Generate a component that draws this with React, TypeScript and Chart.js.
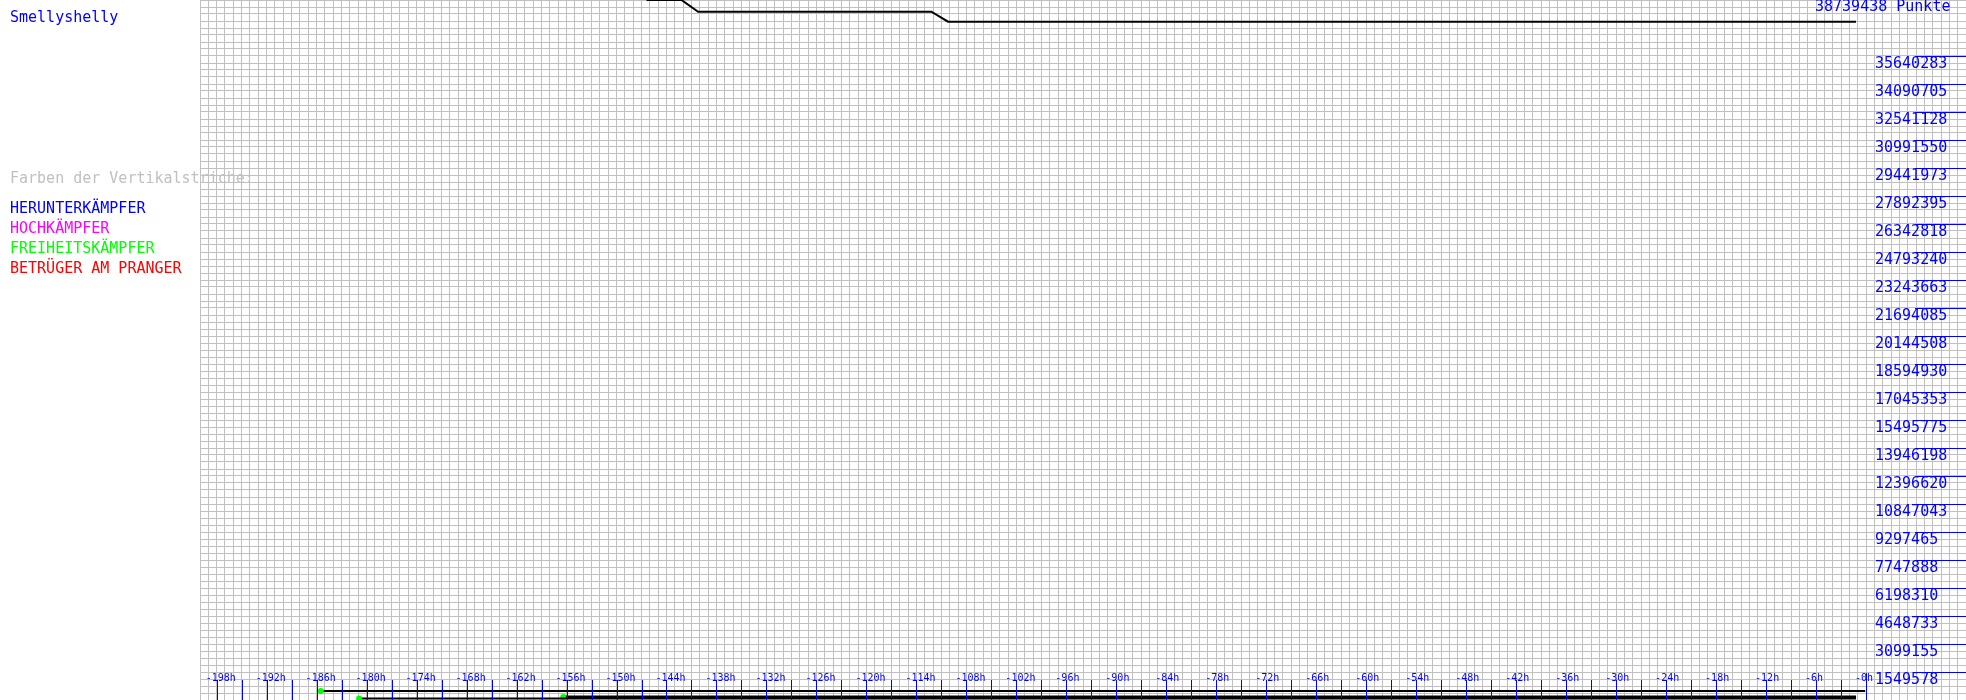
import React, { useEffect, useRef } from "react";
import { Chart, registerables } from "chart.js";
Chart.register(...registerables);

const PLAYER_NAME = "Smellyshelly";
const TOTAL_LABEL = "38739438 Punkte";
const Y_MAX = 38739438;
const LEGEND_TITLE = "Farben der Vertikalstriche:";
const LEGEND_ITEMS = ["HERUNTERKÄMPFER", "HOCHKÄMPFER", "FREIHEITSKÄMPFER", "BETRÜGER AM PRANGER"];
const LEGEND_COLORS = ["#0000ff", "#ff00ff", "#00ff00", "#ff0000"];

// main points line (hours relative to now, points)
const pointHours = [-146.4, -142.2, -140.2, -112.2, -110.2, -1.2];
const pointValues = [38739438, 38739438, 38091900, 38091900, 37538500, 37538500];

// bottom bars
const barAHours = [-185.5, -0.1];
const barAValues = [498000, 498000];
const barBHours = [-180.9, -1.2];
const barBValues = [83000, 83000];
const barCHours = [-156.4, -1.2];
const barCValues = [160000, 160000];

const Y_TICK_VALUES = [
  1549578, 3099155, 4648733, 6198310, 7747888, 9297465, 10847043, 12396620,
  13946198, 15495775, 17045353, 18594930, 20144508, 21694085, 23243663,
  24793240, 26342818, 27892395, 29441973, 30991550, 32541128, 34090705, 35640283,
];
const X_LABEL_HOURS = [
  -198, -192, -186, -180, -174, -168, -162, -156, -150, -144, -138, -132, -126,
  -120, -114, -108, -102, -96, -90, -84, -78, -72, -66, -60, -54, -48, -42, -36,
  -30, -24, -18, -12, -6, 0,
];
const X_MIN = -200;
const X_MAX = 12;

const MONO = '"DejaVu Sans Mono", "Liberation Mono", monospace';

export default function App() {
  const ref = useRef<HTMLCanvasElement | null>(null);
  useEffect(() => {
    document.body.style.margin = "0";
    const canvas = ref.current!;
    const overlay = {
      id: "overlay",
      afterDraw(chart: any) {
        const ctx = chart.ctx as CanvasRenderingContext2D;
        const xs = chart.scales.x;
        const ys = chart.scales.y;
        ctx.save();
        // y labels + blue markers
        ctx.font = `15px ${MONO}`;
        ctx.fillStyle = "#0000ff";
        ctx.strokeStyle = "#0000ff";
        ctx.lineWidth = 1;
        ctx.textBaseline = "alphabetic";
        ctx.textAlign = "left";
        for (const v of Y_TICK_VALUES) {
          const py = Math.round(ys.getPixelForValue(v)) + 0.5;
          ctx.beginPath();
          ctx.moveTo(1915, py);
          ctx.lineTo(1966, py);
          ctx.stroke();
          ctx.fillText(String(v), 1875, py + 11.5);
        }
        ctx.fillText(TOTAL_LABEL, 1815, 11);
        // x ticks
        const marks: number[] = [];
        for (const h of X_LABEL_HOURS) {
          marks.push(h);
          if (h < 0) marks.push(h + 3);
        }
        for (const h of marks) {
          const px = Math.round(xs.getPixelForValue(h)) + 0.5;
          ctx.beginPath();
          ctx.moveTo(px, h === 0 ? 673 : 680);
          ctx.lineTo(px, 700);
          ctx.stroke();
        }
        ctx.font = `10px ${MONO}`;
        for (const h of X_LABEL_HOURS) {
          const px = xs.getPixelForValue(h);
          ctx.fillText(`-${Math.abs(h)}h`, px - 11, 681);
        }
        // left texts
        ctx.font = `15px ${MONO}`;
        ctx.fillStyle = "#0000ff";
        ctx.fillText(PLAYER_NAME, 10, 22);
        ctx.fillStyle = "#c0c0c0";
        ctx.fillText(LEGEND_TITLE, 10, 183);
        LEGEND_ITEMS.forEach((t, i) => {
          ctx.fillStyle = LEGEND_COLORS[i];
          ctx.fillText(t, 10, 213 + i * 20);
        });
        ctx.restore();
      },
    };
    const mk = (hs: number[], vs: number[]) => hs.map((h, i) => ({ x: h, y: vs[i] }));
    const barDs = (hs: number[], vs: number[], w: number) => ({
      data: mk(hs, vs),
      borderColor: "#000000",
      borderWidth: w,
      pointRadius: (c: any) => (c.dataIndex === 0 ? 3 : 0),
      pointBackgroundColor: "#00ff00",
      pointBorderColor: "#00ff00",
      pointBorderWidth: 0,
      tension: 0,
    });
    const chart = new Chart(canvas, {
      type: "line",
      data: {
        datasets: [
          {
            data: mk(pointHours, pointValues),
            borderColor: "#000000",
            borderWidth: 2,
            pointRadius: 0,
            tension: 0,
          },
          barDs(barAHours, barAValues, 2),
          barDs(barBHours, barBValues, 2),
          barDs(barCHours, barCValues, 3),
        ] as any,
      },
      options: {
        responsive: false,
        maintainAspectRatio: false,
        animation: false,
        devicePixelRatio: 1,
        layout: { autoPadding: false, padding: { left: 200, right: 0, top: 0, bottom: 0 } },
        plugins: { legend: { display: false }, tooltip: { enabled: false } },
        scales: {
          x: {
            type: "linear",
            min: X_MIN,
            max: X_MAX,
            afterBuildTicks: (s: any) => {
              const t = [];
              for (let h = X_MIN; h <= X_MAX; h++) t.push({ value: h });
              s.ticks = t;
            },
            ticks: { display: false },
            grid: { color: "#c0c0c0", drawTicks: false, lineWidth: 1 },
            border: { display: false },
          },
          y: {
            type: "linear",
            min: 0,
            max: Y_MAX,
            afterBuildTicks: (s: any) => {
              const t = [];
              for (let i = 0; i <= 100; i++) t.push({ value: (Y_MAX * i) / 100 });
              s.ticks = t;
            },
            ticks: { display: false },
            grid: { color: "#c0c0c0", drawTicks: false, lineWidth: 1 },
            border: { display: false },
          },
        },
      },
      plugins: [overlay],
    } as any);
    return () => chart.destroy();
  }, []);
  return (
    <div style={{ position: "absolute", left: 0, top: 0, width: 1966, height: 700 }}>
      <canvas ref={ref} width={1966} height={700} style={{ display: "block" }} />
    </div>
  );
}
